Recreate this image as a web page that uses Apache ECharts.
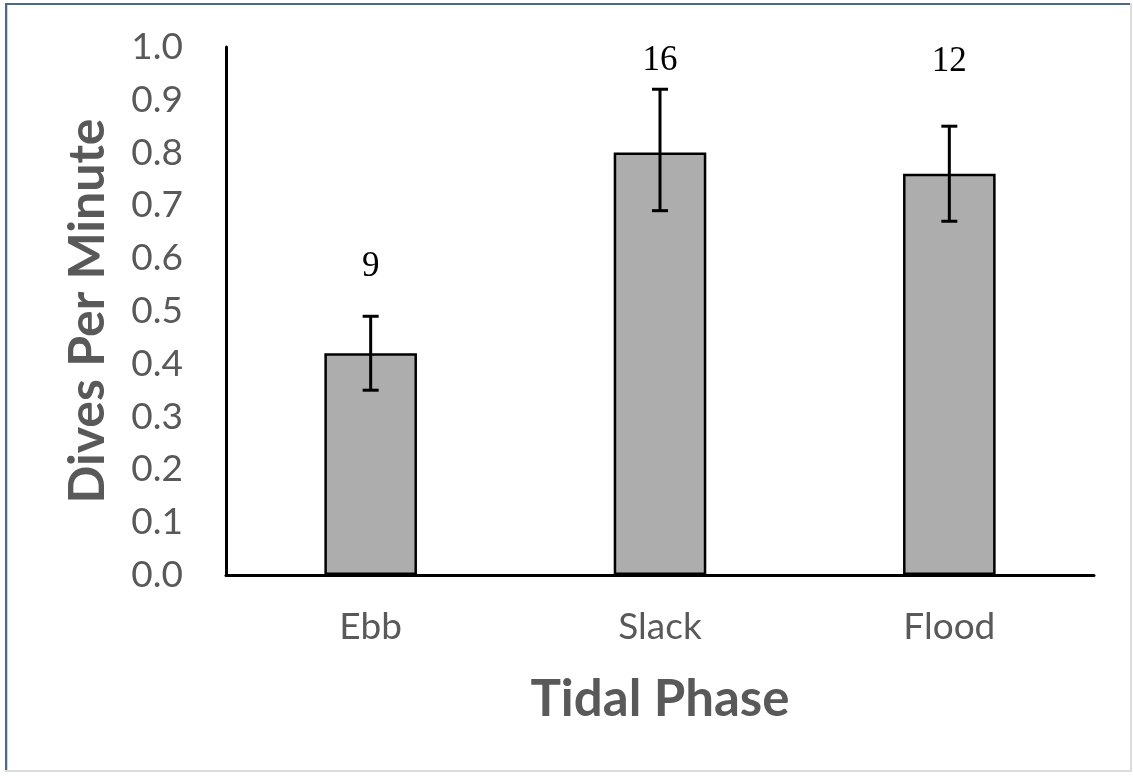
<!DOCTYPE html>
<html>
<head>
<meta charset="utf-8">
<script src="https://cdn.jsdelivr.net/npm/echarts@6/dist/echarts.min.js"></script>
<style>
  html, body { margin: 0; padding: 0; background: #fff; }
  #wrap { position: relative; width: 1133px; height: 778px; overflow: hidden; }
  #chart { position: absolute; left: 0; top: 0; width: 1133px; height: 778px; }
  .fr { position: absolute; pointer-events: none; }
</style>
</head>
<body>
<div id="wrap">
  <div id="chart"></div>
  <div class="fr" style="left:5px;top:3px;width:1127px;height:2px;background:#4e6983;"></div>
  <div class="fr" style="left:5px;top:3px;width:2px;height:769px;background:#4e6983;"></div>
  <div class="fr" style="left:7px;top:5px;width:1px;height:767px;background:#d0d6dd;"></div>
  <div class="fr" style="left:1130px;top:3px;width:2px;height:769px;background:#dcdcdc;"></div>
  <div class="fr" style="left:5px;top:770px;width:1127px;height:2px;background:#dcdcdc;"></div>
</div>
<script>
const categories = ['Ebb', 'Slack', 'Flood'];
const meanDives = [0.42, 0.80, 0.76];
const errorUpper = [0.49, 0.92, 0.85];
const errorLower = [0.35, 0.69, 0.67];
const sampleSizes = ['9', '16', '12'];
const sampleLabelAt = [0.583, 0.974, 0.972];
const yTicks = { min: 0, max: 1.0, interval: 0.1 };

const textGray = '#595959';
const sansFont = 'Lato';

const chart = echarts.init(document.getElementById('chart'), null, { renderer: 'canvas' });

const option = {
  backgroundColor: 'transparent',
  animation: false,
  grid: { left: 226, right: 39, top: 47, bottom: 203, containLabel: false },
  xAxis: {
    type: 'category',
    data: categories,
    boundaryGap: true,
    name: 'Tidal Phase',
    nameLocation: 'middle',
    nameGap: 99,
    nameTextStyle: { fontFamily: sansFont, fontWeight: 'bold', fontSize: 51, color: textGray },
    axisLine: { show: true, lineStyle: { color: '#000', width: 3 } },
    axisTick: { show: false },
    axisLabel: { fontFamily: sansFont, fontSize: 37, color: textGray, margin: 34 },
    splitLine: { show: false }
  },
  yAxis: {
    type: 'value',
    min: yTicks.min,
    max: yTicks.max,
    interval: yTicks.interval,
    name: 'Dives Per Minute',
    nameLocation: 'middle',
    nameGap: 113,
    nameRotate: 90,
    nameTextStyle: { fontFamily: sansFont, fontWeight: 'bold', fontSize: 50, color: textGray },
    axisLine: { show: true, lineStyle: { color: '#000', width: 3 } },
    axisTick: { show: false },
    axisLabel: { fontFamily: sansFont, fontSize: 37, color: textGray, margin: 43,
      formatter: v => v.toFixed(1) },
    splitLine: { show: false }
  },
  series: [
    {
      type: 'bar',
      data: meanDives,
      barWidth: '32%',
      itemStyle: { color: '#adadad', borderColor: '#000', borderWidth: 2.5 }
    },
    {
      type: 'custom',
      data: categories.map((c, i) => [i, errorUpper[i], errorLower[i]]),
      z: 10,
      renderItem: function (params, api) {
        const x = api.value(0);
        const hi = api.coord([x, api.value(1)]);
        const lo = api.coord([x, api.value(2)]);
        const hw = 8;
        const st = { stroke: '#000', lineWidth: 3 };
        return {
          type: 'group',
          children: [
            { type: 'line', shape: { x1: hi[0], y1: hi[1], x2: lo[0], y2: lo[1] }, style: st },
            { type: 'line', shape: { x1: hi[0] - hw, y1: hi[1], x2: hi[0] + hw, y2: hi[1] }, style: st },
            { type: 'line', shape: { x1: lo[0] - hw, y1: lo[1], x2: lo[0] + hw, y2: lo[1] }, style: st }
          ]
        };
      }
    },
    {
      type: 'custom',
      data: categories.map((c, i) => [i, sampleLabelAt[i], sampleSizes[i]]),
      z: 11,
      renderItem: function (params, api) {
        const p = api.coord([api.value(0), api.value(1)]);
        return {
          type: 'text',
          x: p[0], y: p[1],
          style: {
            text: sampleSizes[params.dataIndex],
            fill: '#000',
            font: '35px "Liberation Serif", "Times New Roman", serif',
            textAlign: 'center',
            textVerticalAlign: 'middle'
          }
        };
      }
    }
  ]
};
chart.setOption(option);
</script>
</body>
</html>
